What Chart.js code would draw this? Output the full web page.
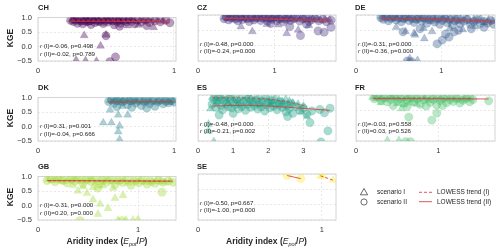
<!DOCTYPE html>
<html>
<head>
<meta charset="utf-8">
<script src="https://cdn.jsdelivr.net/npm/chart.js@4.4.1/dist/chart.umd.min.js"></script>
<style>
  body { margin: 0; background: #fff; }
  #fig { position: relative; width: 500px; height: 252px; overflow: hidden;
         font-family: "Liberation Sans", Arial, sans-serif; color: #262626; }
  #fig canvas { position: absolute; }
  .ttl { position: absolute; font-weight: bold; font-size: 7.5px; line-height: 1; }
  .ylab { position: absolute; font-weight: bold; font-size: 8.5px; line-height: 1;
          transform: translate(-50%, -50%) rotate(-90deg); white-space: nowrap; }
  .xlab { position: absolute; font-weight: bold; font-size: 8.5px; line-height: 1;
          transform: translateX(-50%); white-space: nowrap; }
  .xlab i { font-weight: normal; }
  .xlab sub { font-size: 5.5px; font-style: italic; font-weight: normal; vertical-align: -1.5px; }
  .leg { position: absolute; font-size: 6.5px; line-height: 1; white-space: nowrap; }
</style>
</head>
<body>
<div id="fig"></div>
<script>
// panels in reading order
const countries = ['CH', 'CZ', 'DE', 'DK', 'ES', 'FR', 'GB', 'SE'];
const xTickValues = [[0, 1], [0, 1], [0, 1], [0, 1], [0, 1, 2, 3], [0, 1], [0, 1], [0, 1]];
const yTickValues = [-0.5, 0, 0.5, 1];

// Spearman r and p for each scenario
const rI  = [-0.06, -0.48, -0.31, 0.31, -0.48, -0.03, -0.31, -0.50];
const pI  = [0.498, 0.000, 0.000, 0.001, 0.000, 0.558, 0.000, 0.667];
const rII = [-0.02, -0.24, -0.36, -0.04, -0.21, 0.03, 0.20, -1.00];
const pII = [0.789, 0.000, 0.000, 0.666, 0.002, 0.526, 0.000, 0.000];

// [aridity index, KGE] points, scenario I (triangles) and II (circles)
const chI = [[0.25,0.93],[0.27,0.88],[0.28,0.95],[0.30,0.90],[0.31,0.84],[0.33,0.93],[0.34,0.88],[0.35,0.96],[0.36,0.91],[0.37,0.82],
  [0.38,0.94],[0.40,0.89],[0.41,0.93],[0.42,0.86],[0.44,0.95],[0.45,0.90],[0.46,0.80],[0.48,0.92],[0.49,0.87],[0.51,0.94],
  [0.52,0.89],[0.54,0.93],[0.55,0.85],[0.57,0.91],[0.59,0.95],[0.60,0.88],[0.62,0.92],[0.64,0.86],[0.66,0.94],[0.68,0.90],
  [0.70,0.93],[0.72,0.87],[0.75,0.92],[0.78,0.89],[0.81,0.94],[0.84,0.90],[0.88,0.92],[0.92,0.88],
  [0.34,0.38],[0.50,0.40],[0.85,0.66],[0.66,0.72],[0.46,0.02],[0.28,-0.47],[0.35,-0.49],[0.43,-0.51],[0.74,0.74]];
const chII = [[0.24,0.90],[0.26,0.86],[0.27,0.92],[0.29,0.80],[0.30,0.94],[0.32,0.88],[0.33,0.78],[0.35,0.91],[0.36,0.85],[0.38,0.89],
  [0.39,0.76],[0.40,0.93],[0.42,0.83],[0.43,0.90],[0.45,0.87],[0.47,0.93],[0.48,0.79],[0.50,0.90],[0.51,0.84],[0.53,0.92],
  [0.55,0.88],[0.56,0.75],[0.58,0.86],[0.60,0.91],[0.61,0.80],[0.63,0.89],[0.65,0.84],[0.67,0.92],[0.69,0.86],[0.71,0.78],
  [0.73,0.90],[0.76,0.85],[0.79,0.91],[0.82,0.83],[0.86,0.88],[0.90,0.85],[0.94,0.90],[0.97,0.82],
  [0.50,0.37],[0.57,-0.36],[0.53,-0.52],[0.60,0.70],[0.80,0.72]];

const czI = [[0.35,0.93],[0.38,0.89],[0.41,0.95],[0.44,0.91],[0.47,0.86],[0.50,0.94],[0.53,0.90],[0.56,0.96],[0.59,0.88],[0.62,0.92],
  [0.65,0.84],[0.68,0.94],[0.71,0.90],[0.74,0.87],[0.77,0.95],[0.80,0.91],[0.83,0.86],[0.86,0.93],[0.89,0.89],[0.92,0.95],
  [0.95,0.85],[0.98,0.91],[1.01,0.88],[1.04,0.94],[1.07,0.90],[1.10,0.83],[1.13,0.92],[1.16,0.87],[1.19,0.93],[1.22,0.89],
  [1.26,0.85],[1.30,0.91],[1.34,0.87],[1.38,0.92],[1.42,0.84],[1.46,0.89],[1.50,0.86],[1.55,0.90],[1.60,0.83],[1.66,0.87],[1.72,0.84],
  [0.56,0.62],[0.71,0.46],[1.16,0.40],[1.31,0.51],[0.90,0.70],[1.05,0.68],[1.45,0.66]];
const czII = [[0.34,0.88],[0.37,0.94],[0.40,0.84],[0.43,0.90],[0.46,0.96],[0.49,0.87],[0.52,0.81],[0.55,0.91],[0.58,0.85],[0.61,0.95],
  [0.64,0.89],[0.67,0.79],[0.70,0.93],[0.73,0.84],[0.76,0.90],[0.79,0.96],[0.82,0.82],[0.85,0.89],[0.88,0.93],[0.91,0.80],
  [0.94,0.90],[0.97,0.86],[1.00,0.94],[1.03,0.81],[1.06,0.88],[1.09,0.92],[1.12,0.78],[1.15,0.86],[1.18,0.91],[1.21,0.82],
  [1.25,0.88],[1.29,0.94],[1.33,0.80],[1.37,0.87],[1.41,0.91],[1.45,0.79],[1.49,0.85],[1.53,0.90],[1.58,0.81],[1.63,0.86],[1.68,0.78],[1.74,0.83],
  [1.34,0.33],[1.57,0.48],[1.65,0.44],[1.74,0.60],[1.20,0.62],[1.42,0.70],[0.95,0.72]];

const deI = [[0.30,0.95],[0.33,0.90],[0.36,0.96],[0.39,0.92],[0.42,0.87],[0.45,0.94],[0.48,0.90],[0.51,0.96],[0.54,0.85],[0.57,0.92],
  [0.60,0.88],[0.63,0.95],[0.66,0.90],[0.69,0.83],[0.72,0.93],[0.75,0.88],[0.78,0.95],[0.81,0.86],[0.84,0.91],[0.87,0.80],
  [0.90,0.93],[0.93,0.88],[0.96,0.84],[0.99,0.92],[1.02,0.87],[1.05,0.94],[1.08,0.82],[1.11,0.90],[1.14,0.86],[1.17,0.93],
  [1.20,0.80],[1.23,0.88],[1.26,0.84],[1.30,0.91],[1.34,0.78],[1.38,0.86],[1.42,0.82],[1.46,0.89],[1.50,0.76],[1.55,0.84],[1.60,0.80],
  [0.58,0.46],[0.68,0.40],[0.79,0.57],[0.89,0.46],[1.10,0.57],[0.69,0.35],[0.80,0.23],[0.63,-0.42],[0.72,-0.48],[1.25,0.52],[1.40,0.62],[0.47,0.60]];
const deII = [[0.29,0.91],[0.32,0.86],[0.35,0.93],[0.38,0.81],[0.41,0.89],[0.44,0.95],[0.47,0.84],[0.50,0.91],[0.53,0.78],[0.56,0.88],
  [0.59,0.94],[0.62,0.82],[0.65,0.90],[0.68,0.76],[0.71,0.86],[0.74,0.92],[0.77,0.80],[0.80,0.89],[0.83,0.73],[0.86,0.85],
  [0.89,0.91],[0.92,0.77],[0.95,0.87],[0.98,0.70],[1.01,0.83],[1.04,0.90],[1.07,0.75],[1.10,0.85],[1.13,0.68],[1.16,0.81],
  [1.19,0.88],[1.22,0.72],[1.26,0.80],[1.30,0.86],[1.34,0.70],[1.38,0.79],[1.42,0.85],[1.46,0.72],[1.50,0.80],[1.54,0.74],[1.58,0.82],[1.61,0.70],
  [0.55,0.45],[0.95,0.06],[1.01,0.18],[1.09,0.28],[1.05,0.38],[0.75,0.55],[1.20,0.50],[1.35,0.55],[1.50,0.60],[0.60,-0.50],[0.65,-0.52],[1.15,0.45]];

const dkI = [[0.53,0.90],[0.55,0.86],[0.57,0.93],[0.59,0.88],[0.61,0.82],[0.63,0.91],[0.65,0.87],[0.67,0.94],[0.69,0.84],[0.71,0.90],
  [0.73,0.86],[0.75,0.93],[0.77,0.88],[0.79,0.83],[0.81,0.91],[0.83,0.87],[0.85,0.94],[0.87,0.85],[0.89,0.90],[0.91,0.86],
  [0.93,0.92],[0.95,0.88],[0.97,0.84],[0.99,0.90],
  [0.53,0.57],[0.59,0.40],[0.60,0.02],[0.59,-0.18],[0.60,-0.45],[0.48,0.13],[0.54,0.13],[0.66,0.40],[0.62,0.70]];
const dkII = [[0.52,0.86],[0.54,0.92],[0.56,0.80],[0.58,0.89],[0.60,0.94],[0.62,0.84],[0.64,0.90],[0.66,0.76],[0.68,0.88],[0.70,0.93],
  [0.72,0.81],[0.74,0.89],[0.76,0.72],[0.78,0.86],[0.80,0.92],[0.82,0.79],[0.84,0.88],[0.86,0.70],[0.88,0.85],[0.90,0.91],
  [0.92,0.78],[0.94,0.87],[0.96,0.82],[0.98,0.89],[1.00,0.84],
  [0.69,0.66],[0.80,0.64],[0.58,0.68]];

const esI = [[0.40,0.92],[0.50,0.88],[0.60,0.94],[0.70,0.90],[0.80,0.85],[0.90,0.93],[1.00,0.89],[1.10,0.82],[1.20,0.92],[1.30,0.87],
  [1.40,0.94],[1.50,0.90],[1.60,0.84],[1.70,0.91],[1.80,0.86],[1.90,0.93],[2.00,0.88],[2.10,0.80],[2.20,0.90],[2.30,0.84],
  [2.40,0.78],[2.50,0.86],[2.60,0.80],[2.70,0.74],[2.85,0.70],[3.00,0.64],[0.55,0.78],[0.85,0.75],[1.15,0.72],[1.45,0.76],
  [1.75,0.70],[2.05,0.72],
  [0.30,-0.17],[0.30,0.05],[0.45,-0.52],[3.10,0.30],[2.95,0.45],[0.35,0.55]];
const esII = [[0.40,0.70],[0.45,0.85],[0.50,0.60],[0.55,0.78],[0.60,0.90],[0.65,0.66],[0.70,0.52],[0.75,0.82],[0.80,0.72],[0.85,0.62],
  [0.90,0.88],[0.95,0.58],[1.00,0.76],[1.05,0.68],[1.10,0.85],[1.15,0.55],[1.20,0.72],[1.25,0.63],[1.30,0.80],[1.35,0.50],
  [1.40,0.70],[1.45,0.88],[1.50,0.60],[1.55,0.75],[1.60,0.66],[1.65,0.83],[1.70,0.54],[1.75,0.72],[1.80,0.62],[1.85,0.80],
  [1.90,0.48],[1.95,0.68],[2.00,0.76],[2.05,0.58],[2.10,0.84],[2.15,0.64],[2.20,0.72],[2.25,0.52],[2.30,0.68],[2.35,0.78],
  [2.40,0.60],[2.45,0.70],[2.50,0.45],[2.55,0.66],[2.60,0.56],[2.65,0.72],[2.70,0.40],[2.80,0.62],[2.90,0.50],[3.00,0.58],
  [3.10,0.38],[3.24,0.48],[3.47,0.53],[3.60,0.42],[3.76,0.57],[3.19,0.10],[3.70,-0.17],[3.50,-0.53],[2.55,0.30],[0.60,0.35],[1.00,0.40]];

const frI = [[0.20,0.93],[0.24,0.89],[0.28,0.95],[0.32,0.91],[0.36,0.86],[0.40,0.94],[0.44,0.90],[0.48,0.96],[0.52,0.87],[0.56,0.92],
  [0.60,0.88],[0.64,0.95],[0.68,0.84],[0.72,0.91],[0.76,0.87],[0.80,0.94],[0.84,0.89],[0.88,0.82],[0.92,0.92],[0.96,0.87],
  [1.00,0.94],[1.04,0.85],[1.08,0.91],[1.12,0.88],[1.16,0.93],[1.20,0.86],[1.24,0.90],[1.28,0.84],[1.32,0.91],[1.36,0.87],[1.40,0.92],
  [0.50,0.72],[0.58,0.68],[0.66,0.74],[0.74,0.70],[0.30,0.75],
  [0.52,-0.48],[0.38,-0.48],[0.55,0.55]];
const frII = [[0.22,0.88],[0.26,0.94],[0.30,0.82],[0.34,0.90],[0.38,0.78],[0.42,0.86],[0.46,0.93],[0.50,0.80],[0.54,0.88],[0.58,0.74],
  [0.62,0.85],[0.66,0.92],[0.70,0.78],[0.74,0.87],[0.78,0.70],[0.82,0.84],[0.86,0.91],[0.90,0.76],[0.94,0.86],[0.98,0.68],
  [1.02,0.82],[1.06,0.90],[1.10,0.75],[1.14,0.85],[1.18,0.79],[1.22,0.88],[1.26,0.74],[1.30,0.83],[1.34,0.89],[1.38,0.78],[1.42,0.85],
  [0.45,0.66],[0.62,0.62],[0.85,0.64],[1.05,0.66],
  [1.61,0.81],[0.64,0.28],[0.98,0.41],[0.92,0.18],[0.60,-0.52],[0.66,-0.52]];

const gbI = [[0.10,0.90],[0.14,0.86],[0.18,0.93],[0.22,0.88],[0.26,0.83],[0.30,0.92],[0.34,0.87],[0.38,0.94],[0.42,0.84],[0.46,0.90],
  [0.50,0.86],[0.54,0.93],[0.58,0.80],[0.62,0.89],[0.66,0.85],[0.70,0.92],[0.74,0.82],[0.78,0.88],[0.82,0.84],[0.86,0.91],
  [0.90,0.78],[0.94,0.87],[0.98,0.83],[1.02,0.90],[1.06,0.80],[1.10,0.86],[1.14,0.82],[1.18,0.88],[1.22,0.84],[1.27,0.80],[1.32,0.86],
  [0.35,0.70],[0.45,0.66],[0.55,0.62],[0.65,0.68],[0.75,0.60],
  [0.49,0.42],[0.62,0.05],[0.77,0.25],[0.55,0.20],[0.70,-0.10],[0.85,0.35],[0.40,0.50],[0.80,-0.50],[0.88,-0.50],[0.95,-0.50],[1.00,-0.48],[0.60,-0.30]];
const gbII = [[0.09,0.86],[0.13,0.92],[0.17,0.82],[0.21,0.90],[0.25,0.86],[0.29,0.78],[0.33,0.90],[0.37,0.84],[0.41,0.92],[0.45,0.76],
  [0.49,0.88],[0.53,0.83],[0.57,0.91],[0.61,0.74],[0.65,0.86],[0.69,0.81],[0.73,0.90],[0.77,0.72],[0.81,0.85],[0.85,0.79],
  [0.89,0.89],[0.93,0.70],[0.97,0.84],[1.01,0.78],[1.05,0.88],[1.09,0.74],[1.13,0.83],[1.17,0.77],[1.21,0.86],[1.25,0.80],[1.30,0.84],[1.35,0.80],
  [1.24,0.46],[0.42,-0.52],[0.84,-0.52],[0.60,0.60]];

const seI = [[0.99,0.93],[1.01,0.95],[1.09,0.80]];
const seII = [[0.72,0.95],[0.83,0.85]];

// LOWESS trend lines, dashed (I) and solid (II)
const chTrendI = [[0.25,0.91],[0.50,0.91],[0.75,0.90],[0.92,0.89]];
const chTrendII = [[0.24,0.87],[0.50,0.87],[0.75,0.86],[0.97,0.84]];
const czTrendI = [[0.35,0.91],[0.80,0.90],[1.20,0.88],[1.72,0.85]];
const czTrendII = [[0.34,0.89],[0.80,0.87],[1.30,0.84],[1.74,0.81]];
const deTrendI = [[0.30,0.91],[0.80,0.89],[1.20,0.86],[1.60,0.82]];
const deTrendII = [[0.29,0.89],[0.80,0.86],[1.20,0.82],[1.61,0.77]];
const dkTrendI = [[0.53,0.85],[0.75,0.86],[0.99,0.86]];
const dkTrendII = [[0.52,0.84],[0.75,0.85],[1.00,0.85]];
const esTrendI = [[0.40,0.91],[1.00,0.91],[1.60,0.90],[2.20,0.84],[2.80,0.72],[3.10,0.62]];
const esTrendII = [[0.40,0.64],[1.00,0.66],[1.60,0.66],[2.20,0.63],[2.80,0.58],[3.76,0.50]];
const frTrendI = [[0.20,0.90],[0.80,0.90],[1.40,0.89]];
const frTrendII = [[0.22,0.88],[0.80,0.88],[1.61,0.87]];
const gbTrendI = [[0.10,0.85],[0.70,0.85],[1.32,0.84]];
const gbTrendII = [[0.09,0.86],[0.70,0.85],[1.35,0.84]];
const seTrendI = [[0.99,0.94],[1.09,0.80]];
const seTrendII = [[0.72,0.95],[0.83,0.85]];

const pointsI = [chI, czI, deI, dkI, esI, frI, gbI, seI];
const pointsII = [chII, czII, deII, dkII, esII, frII, gbII, seII];
const trendsI = [chTrendI, czTrendI, deTrendI, dkTrendI, esTrendI, frTrendI, gbTrendI, seTrendI];
const trendsII = [chTrendII, czTrendII, deTrendII, dkTrendII, esTrendII, frTrendII, gbTrendII, seTrendII];

// layout (page pixels) and styling
const colLeft = [38, 197, 355];
const colRight = [176, 336, 495];
const rowTop = [15, 95, 174];
const plotH = 46;
const xMax = [1.015, 1.805, 1.628, 1.015, 3.93, 1.687, 1.38, 1.115];
const viridis = ['68,1,84', '70,51,127', '54,92,141', '39,127,142', '31,161,135', '74,193,109', '160,218,57', '253,231,37'];
const markerAlpha = 0.38;
const trendColor = 'rgba(214,62,62,0.85)';
const fontFamily = '"Liberation Sans", Arial, sans-serif';

const fig = document.getElementById('fig');

function toXY(arr) {
  return arr.map(p => ({ x: p[0], y: p[1] }));
}

const boxPlugin = {
  id: 'box',
  beforeDatasetsDraw(chart) {
    const a = chart.chartArea, ctx = chart.ctx;
    ctx.save();
    ctx.strokeStyle = '#d4d4d4';
    ctx.lineWidth = 1;
    ctx.strokeRect(a.left, a.top, a.right - a.left, a.bottom - a.top);
    ctx.restore();
  }
};

const statsPlugin = {
  id: 'stats',
  afterDatasetsDraw(chart, args, opts) {
    const a = chart.chartArea, ctx = chart.ctx;
    const lines = [
      ' (I)=' + opts.r1.toFixed(2) + ', p=' + opts.p1.toFixed(3),
      ' (II)=' + opts.r2.toFixed(2) + ', p=' + opts.p2.toFixed(3)
    ];
    ctx.save();
    ctx.fillStyle = '#262626';
    ctx.textBaseline = 'middle';
    lines.forEach((t, k) => {
      const y = a.top + 29 + k * 7.5;
      ctx.font = 'italic 6.2px ' + fontFamily;
      ctx.fillText('r', a.left + 2, y);
      const w = ctx.measureText('r').width;
      ctx.font = '6.2px ' + fontFamily;
      ctx.fillText(t, a.left + 2 + w, y);
    });
    ctx.restore();
  }
};

countries.forEach((name, i) => {
  const col = i % 3, row = Math.floor(i / 3);
  const fill = 'rgba(' + viridis[i] + ',' + markerAlpha + ')';
  const yW = col === 0 ? 38 : 6;
  const plotW = colRight[col] - colLeft[col];
  const canvas = document.createElement('canvas');
  canvas.width = yW + plotW + 6;
  canvas.height = 8 + plotH + 16;
  canvas.style.left = (colLeft[col] - yW) + 'px';
  canvas.style.top = (rowTop[row] - 8) + 'px';
  fig.appendChild(canvas);

  new Chart(canvas, {
    type: 'scatter',
    data: {
      datasets: [
        { data: toXY(trendsI[i]), type: 'line', order: 0, borderColor: trendColor, borderWidth: 1,
          borderDash: [3, 2], pointRadius: 0, fill: false, clip: 0 },
        { data: toXY(trendsII[i]), type: 'line', order: 0, borderColor: trendColor, borderWidth: 1,
          pointRadius: 0, fill: false, clip: 0 },
        { data: toXY(pointsII[i]), order: 1, pointStyle: 'circle', pointRadius: 4.2,
          backgroundColor: fill, borderColor: fill, borderWidth: 0.4, clip: 0 },
        { data: toXY(pointsI[i]), order: 2, pointStyle: 'triangle', pointRadius: 4.6,
          backgroundColor: fill, borderColor: fill, borderWidth: 0.4, clip: 0 }
      ]
    },
    options: {
      responsive: false,
      animation: false,
      devicePixelRatio: 1,
      layout: { padding: { top: 8, right: 6, left: 0, bottom: 0 } },
      plugins: {
        legend: { display: false },
        tooltip: { enabled: false },
        stats: { r1: rI[i], p1: pI[i], r2: rII[i], p2: pII[i] }
      },
      scales: {
        x: {
          type: 'linear',
          min: 0,
          max: xMax[i],
          afterBuildTicks: s => { s.ticks = xTickValues[i].map(v => ({ value: v })); },
          afterFit: s => { s.height = 16; },
          grid: { color: '#e2e2e2', lineWidth: 0.8, drawTicks: false },
          border: { display: false, dash: [2, 2] },
          ticks: { padding: 5, color: '#333', font: { size: 7.5, family: fontFamily } }
        },
        y: {
          min: -0.5,
          max: 1,
          afterBuildTicks: s => { s.ticks = yTickValues.map(v => ({ value: v })); },
          afterFit: s => { s.width = yW; },
          grid: { color: '#e2e2e2', lineWidth: 0.8, drawTicks: false },
          border: { display: false, dash: [2, 2] },
          ticks: {
            display: col === 0,
            padding: 6,
            color: '#333',
            font: { size: 7.5, family: fontFamily },
            callback: v => v.toFixed(1).replace('-', '\u2212')
          }
        }
      }
    },
    plugins: [boxPlugin, statsPlugin]
  });

  const t = document.createElement('div');
  t.className = 'ttl';
  t.textContent = name;
  t.style.left = colLeft[col] + 'px';
  t.style.top = (rowTop[row] - 11) + 'px';
  fig.appendChild(t);

  if (col === 0) {
    const yl = document.createElement('div');
    yl.className = 'ylab';
    yl.textContent = 'KGE';
    yl.style.left = '10px';
    yl.style.top = (rowTop[row] + plotH / 2) + 'px';
    fig.appendChild(yl);
  }
  if (row === 2) {
    const xl = document.createElement('div');
    xl.className = 'xlab';
    xl.innerHTML = 'Aridity index (<i>E</i><sub>pot</sub>/<i>P</i>)';
    xl.style.left = ((colLeft[col] + colRight[col]) / 2) + 'px';
    xl.style.top = '237px';
    fig.appendChild(xl);
  }
});

// legend in the empty ninth cell
const legendHtml = `
<svg style="position:absolute;left:358px;top:187px" width="80" height="20">
  <polygon points="6,1.5 9.6,7.8 2.4,7.8" fill="none" stroke="#444" stroke-width="0.8"/>
  <circle cx="6" cy="15" r="3.1" fill="none" stroke="#444" stroke-width="0.8"/>
  <line x1="61" y1="5.3" x2="74" y2="5.3" stroke="${trendColor}" stroke-width="1" stroke-dasharray="3,2"/>
  <line x1="61" y1="14.7" x2="74" y2="14.7" stroke="${trendColor}" stroke-width="1"/>
</svg>
<div class="leg" style="left:377px;top:189px">scenario I</div>
<div class="leg" style="left:377px;top:198.5px">scenario II</div>
<div class="leg" style="left:437px;top:189px">LOWESS trend (I)</div>
<div class="leg" style="left:437px;top:198.5px">LOWESS trend (II)</div>`;
fig.insertAdjacentHTML('beforeend', legendHtml);
</script>
</body>
</html>
